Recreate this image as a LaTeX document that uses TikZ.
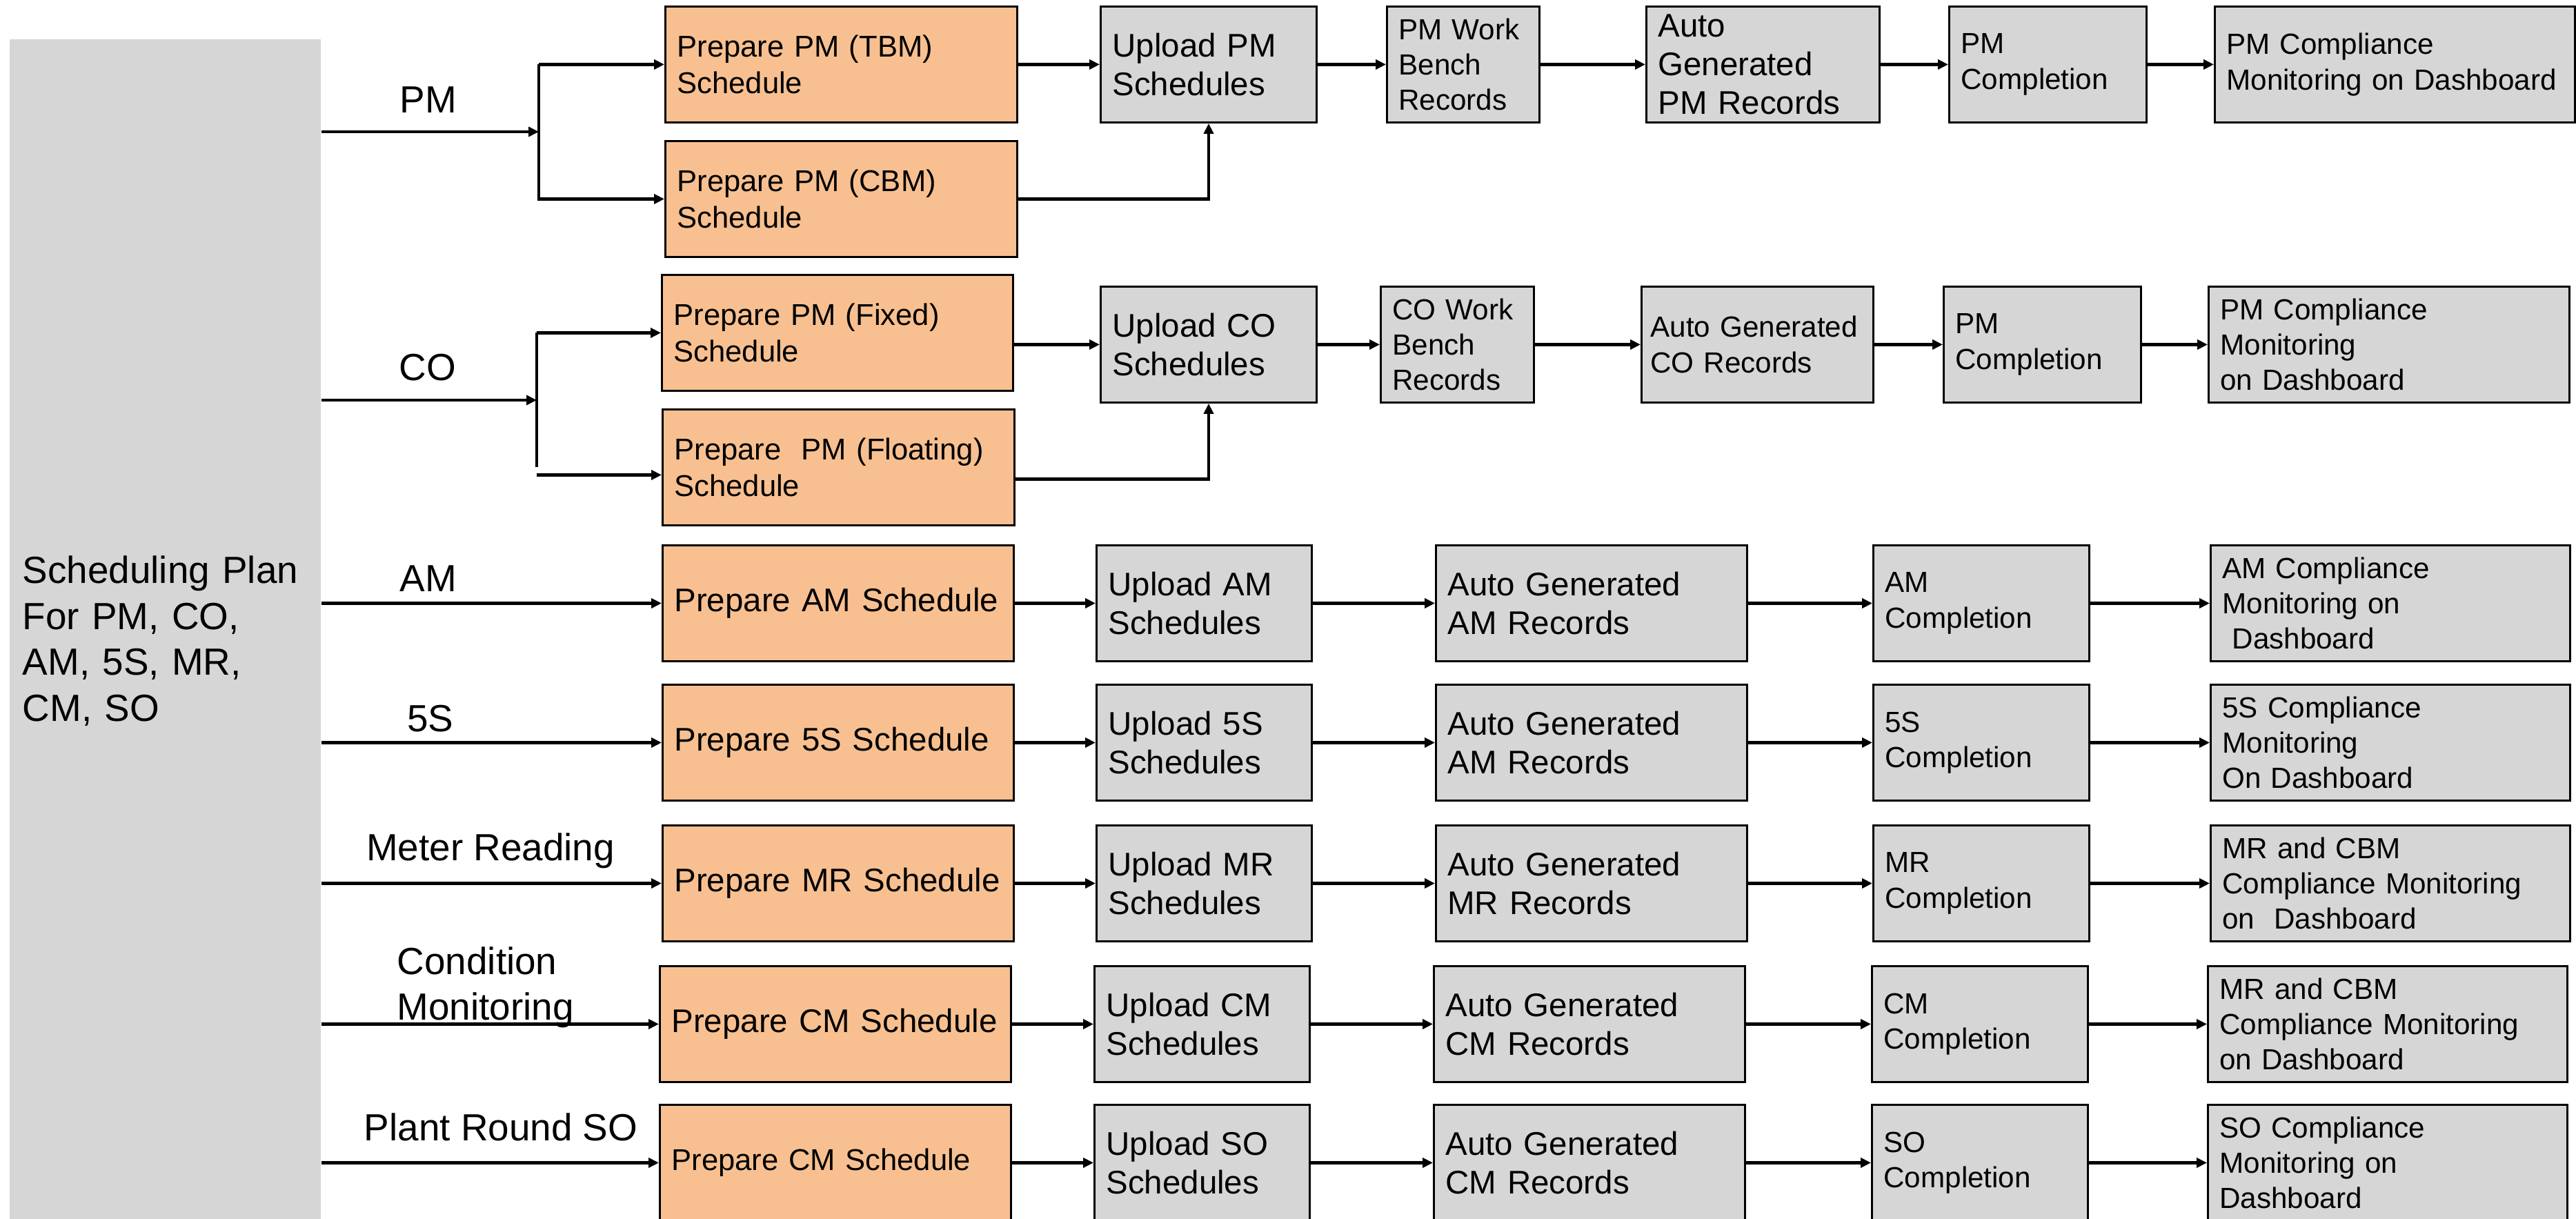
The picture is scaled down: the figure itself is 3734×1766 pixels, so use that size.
\documentclass[tikz,border=0pt]{standalone}
\usepackage{fontspec}
\setmainfont{Liberation Sans}
\usetikzlibrary{arrows.meta}
\definecolor{prepfill}{RGB}{248,192,144}
\definecolor{boxgray}{RGB}{214,214,214}
\newcommand\fsmall{\fontsize{12pt}{14.6pt}\selectfont}
\newcommand\fprep{\fontsize{12.4pt}{15pt}\selectfont}
\newcommand\fmid{\fontsize{13.5pt}{16pt}\selectfont}
\newcommand\flbl{\fontsize{15.6pt}{19pt}\selectfont}

\begin{document}
\begin{tikzpicture}[x=0.01cm, y=-0.01cm, >={Triangle[length=1.5mm,width=1.4mm]}]
    \tikzset{
        prepbox/.style={draw, line width=0.8pt, fill=prepfill, anchor=north west, minimum height=1.68cm,
            inner xsep=0.17cm, inner ysep=0pt, align=left, font=\fprep, text width=#1},
        flowbox/.style={prepbox=#1, fill=boxgray, font=\fsmall},
        flow/.style={->, line width=1.2pt},
        lbl/.style={anchor=base, inner sep=0pt, font=\flbl}
    }
    \useasboundingbox (0,0) rectangle (3734,1766);
    \clip (0,0) rectangle (3734,1766);

    % plan panel
    \node[fill=boxgray, anchor=north west, minimum width=4.51cm, minimum height=17.44cm, inner xsep=0.19cm,
        text width=4.13cm, align=left, font=\flbl] (plan) at (13,56) {Scheduling Plan\\For PM, CO,\\AM, 5S, MR,\\CM, SO};

    % PM
    \node[prepbox=4.76cm] (prepTBM) at (963,8) {Prepare PM (TBM)\\Schedule};
    \node[prepbox=4.76cm] (prepCBM) at (963,203) {Prepare PM (CBM)\\Schedule};
    \node[flowbox=2.79cm, font=\fmid] (upPM) at (1594,8) {Upload PM\\Schedules};
    \node[flowbox=1.87cm] (wbPM) at (2009,8) {PM Work\\Bench\\Records};
    \node[flowbox=3.04cm, font=\fmid] (autoPM) at (2385,8) {Auto\\Generated\\PM Records};
    \node[flowbox=2.52cm] (compPM) at (2824,8) {PM\\Completion};
    \node[flowbox=4.88cm] (dashPM) at (3209,8) {PM Compliance\\Monitoring on Dashboard};

    % CO
    \node[prepbox=4.75cm] (prepFix) at (958,397) {Prepare PM (Fixed)\\Schedule};
    \node[prepbox=4.76cm] (prepFloat) at (959,592) {Prepare\ \ PM (Floating)\\Schedule};
    \node[flowbox=2.79cm, font=\fmid] (upCO) at (1594,414) {Upload CO\\Schedules};
    \node[flowbox=1.88cm] (wbCO) at (2000,414) {CO Work\\Bench\\Records};
    \node[flowbox=3.10cm, inner xsep=0.13cm] (autoCO) at (2378,414) {Auto Generated\\CO Records};
    \node[flowbox=2.52cm] (compCO) at (2816,414) {PM\\Completion};
    \node[flowbox=4.89cm] (dashCO) at (3200,414) {PM Compliance\\Monitoring\\on Dashboard};

    % AM
    \node[prepbox=4.75cm, font=\fmid] (prepAM) at (959,789) {Prepare AM Schedule};
    \node[flowbox=2.78cm, font=\fmid] (upAM) at (1588,789) {Upload AM\\Schedules};
    \node[flowbox=4.17cm, font=\fmid] (autoAM) at (2080,789) {Auto Generated\\AM Records};
    \node[flowbox=2.79cm] (compAM) at (2714,789) {AM\\Completion};
    \node[flowbox=4.87cm] (dashAM) at (3203,789) {AM Compliance\\Monitoring on\\\ Dashboard};

    % 5S
    \node[prepbox=4.75cm, font=\fmid] (prep5S) at (959,991) {Prepare 5S Schedule};
    \node[flowbox=2.78cm, font=\fmid] (up5S) at (1588,991) {Upload 5S\\Schedules};
    \node[flowbox=4.17cm, font=\fmid] (auto5S) at (2080,991) {Auto Generated\\AM Records};
    \node[flowbox=2.79cm] (comp5S) at (2714,991) {5S\\Completion};
    \node[flowbox=4.87cm] (dash5S) at (3203,991) {5S Compliance\\Monitoring\\On Dashboard};

    % MR
    \node[prepbox=4.75cm, font=\fmid] (prepMR) at (959,1195) {Prepare MR Schedule};
    \node[flowbox=2.78cm, font=\fmid] (upMR) at (1588,1195) {Upload MR\\Schedules};
    \node[flowbox=4.17cm, font=\fmid] (autoMR) at (2080,1195) {Auto Generated\\MR Records};
    \node[flowbox=2.79cm] (compMR) at (2714,1195) {MR\\Completion};
    \node[flowbox=4.87cm] (dashMR) at (3203,1195) {MR and CBM\\Compliance Monitoring\\on\ \ Dashboard};

    % CM
    \node[prepbox=4.75cm, font=\fmid] (prepCM) at (955,1399) {Prepare CM Schedule};
    \node[flowbox=2.78cm, font=\fmid] (upCM) at (1585,1399) {Upload CM\\Schedules};
    \node[flowbox=4.17cm, font=\fmid] (autoCM) at (2077,1399) {Auto Generated\\CM Records};
    \node[flowbox=2.79cm] (compCM) at (2712,1399) {CM\\Completion};
    \node[flowbox=4.87cm] (dashCM) at (3199,1399) {MR and CBM\\Compliance Monitoring\\on Dashboard};

    % SO
    \node[prepbox=4.75cm] (prepSO) at (955,1600) {Prepare CM Schedule};
    \node[flowbox=2.78cm, font=\fmid] (upSO) at (1585,1600) {Upload SO\\Schedules};
    \node[flowbox=4.17cm, font=\fmid] (autoSO) at (2077,1600) {Auto Generated\\CM Records};
    \node[flowbox=2.79cm] (compSO) at (2712,1600) {SO\\Completion};
    \node[flowbox=4.87cm] (dashSO) at (3199,1600) {SO Compliance\\Monitoring on\\Dashboard};

    % forks
    \coordinate (pmfork) at (781,191);
    \coordinate (cofork) at (778,580);
    \coordinate (floatin) at ([yshift=-0.11cm]prepFloat.west);
    \coordinate (floatout) at ([yshift=-0.17cm]prepFloat.east);

    \draw[flow] (plan.east |- pmfork) -- (pmfork);
    \draw[flow] (pmfork |- prepTBM.west) -- (prepTBM.west);
    \draw[flow] (pmfork |- prepTBM.west) |- (prepCBM.west);
    \draw[flow] (prepTBM) -- (upPM);
    \draw[flow] (prepCBM.east) -| (upPM.south);
    \draw[flow] (upPM) -- (wbPM);
    \draw[flow] (wbPM) -- (autoPM);
    \draw[flow] (autoPM) -- (compPM);
    \draw[flow] (compPM) -- (dashPM);

    \draw[flow] (plan.east |- cofork) -- (cofork);
    \draw[flow] (cofork |- prepFix.west) -- (prepFix.west);
    \draw[line width=1.2pt] (cofork |- prepFix.west) -- (cofork |- prepFloat.west);
    \draw[flow] (cofork |- floatin) -- (floatin);
    \draw[flow] (prepFix.east |- upCO.west) -- (upCO.west);
    \draw[flow] (floatout) -| (upCO.south);
    \draw[flow] (upCO) -- (wbCO);
    \draw[flow] (wbCO) -- (autoCO);
    \draw[flow] (autoCO) -- (compCO);
    \draw[flow] (compCO) -- (dashCO);

    \foreach \r in {AM,5S,MR,CM,SO}{
        \draw[flow] (plan.east |- prep\r.west) -- (prep\r.west);
        \draw[flow] (prep\r) -- (up\r);
        \draw[flow] (up\r) -- (auto\r);
        \draw[flow] (auto\r) -- (comp\r);
        \draw[flow] (comp\r) -- (dash\r);
    }

    % labels
    \node[lbl] (lblPM) at (621,163) {PM};
    \node[lbl] (lblCO) at (620,551) {CO};
    \node[lbl] (lblAM) at (621,857) {AM};
    \node[lbl] (lbl5S) at (624,1060) {5S};
    \node[lbl] (lblMR) at (711,1247) {Meter Reading};
    \node[lbl, anchor=base west, align=left, text width=3cm] (lblCM) at (575,1412) {Condition\\Monitoring};
    \node[lbl] (lblSO) at (726,1653) {Plant Round SO};
\end{tikzpicture}
\end{document}
